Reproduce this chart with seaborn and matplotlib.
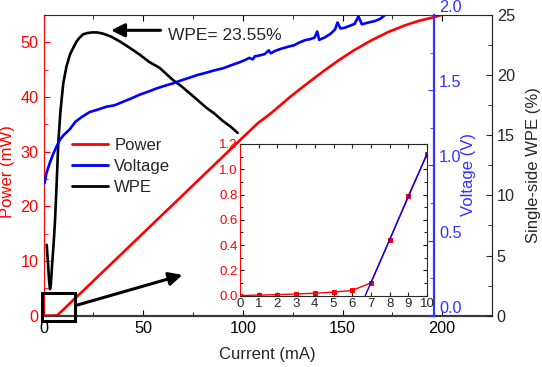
import numpy as np
import pandas as pd
import matplotlib
matplotlib.use("Agg")
import matplotlib.pyplot as plt
from matplotlib.patches import Rectangle
from matplotlib.lines import Line2D
from matplotlib.ticker import MultipleLocator, FormatStrFormatter
from matplotlib.transforms import ScaledTranslation
import seaborn as sns

# --- data ---
power_i = [0, 1, 2, 3, 4, 5, 6, 7, 8, 9, 10, 15, 20, 30, 40, 50, 60, 70, 80, 90, 98,
           107.5, 114.7, 123, 131.3, 140, 148, 156, 164.7, 173, 181.3, 188, 194.7, 199.7]
power_mw = [0, 0.003, 0.007, 0.012, 0.018, 0.027, 0.04, 0.1, 0.44, 0.79, 1.12, 2.9, 4.6,
            8.1, 11.6, 15.1, 18.6, 22.1, 25.6, 29.1, 31.9, 35.2, 37.2, 39.8, 42.2, 44.6,
            46.7, 48.6, 50.4, 51.9, 53.1, 53.9, 54.5, 55.0]

volt_i = [0.5, 1.5, 3.25, 5, 6.6, 8.25, 10, 13.2, 16, 19, 23.25, 27, 31.6, 35.8, 39.9,
          44, 48.25, 52.5, 56.6, 60.5, 64.9, 69, 73.25, 77, 81.6, 85.8, 89.9, 94, 98.25,
          101, 103.25, 105, 106, 108, 111, 113, 114, 116, 119, 123, 126, 128, 131.3, 134,
          136, 137.3, 138.3, 141, 144, 146.3, 147.5, 149, 151.3, 154, 156, 158, 159.7,
          163, 166.3, 169, 171.3, 175, 180]
volt_v = [0.88, 0.95, 1.02, 1.08, 1.127, 1.17, 1.2, 1.24, 1.29, 1.32, 1.355, 1.37, 1.39,
          1.40, 1.423, 1.445, 1.47, 1.49, 1.511, 1.528, 1.545, 1.565, 1.583, 1.60, 1.616,
          1.632, 1.645, 1.665, 1.685, 1.70, 1.715, 1.705, 1.725, 1.73, 1.74, 1.765, 1.745,
          1.76, 1.775, 1.79, 1.80, 1.815, 1.833, 1.84, 1.85, 1.89, 1.835, 1.85, 1.875,
          1.905, 1.95, 1.91, 1.916, 1.93, 1.94, 1.99, 1.938, 1.95, 1.96, 1.975, 2.0, 2.03,
          2.06]

wpe_i = [1.6, 2.2, 2.8, 3.25, 3.7, 4.3, 5, 5.75, 6.6, 7.4, 8.5, 9.9, 11.5, 13.25, 15,
         16.6, 18, 19.9, 22, 24.1, 27, 29.9, 34, 38.3, 43, 48.3, 53, 58.3, 64.9, 69, 73.3,
         77.5, 81.6, 85.8, 89.9, 94, 97.4]
wpe_pct = [5.9, 4.5, 2.9, 2.2, 2.6, 4.2, 5.8, 7.8, 11.0, 14.3, 17.0, 19.3, 20.7, 21.7,
           22.3, 22.8, 23.1, 23.4, 23.5, 23.55, 23.55, 23.45, 23.2, 22.8, 22.3, 21.7, 21.1,
           20.6, 19.6, 19.1, 18.5, 17.9, 17.3, 16.8, 16.2, 15.7, 15.2]

inset_i = [0, 1, 2, 3, 4, 5, 6, 7, 8, 9, 10]
inset_p = [0, 0.003, 0.007, 0.012, 0.018, 0.027, 0.04, 0.1, 0.44, 0.79, 1.12]
fit_i = [6.7, 10]
fit_p = [0, 1.12]

RED = "#ff0000"
BLUE = "#0000ff"
VBLUE = "#3333ff"

sns.set_style("ticks")
plt.rcParams["font.family"] = ["Liberation Sans", "DejaVu Sans"]
plt.rcParams["xtick.direction"] = "in"
plt.rcParams["ytick.direction"] = "in"

fig = plt.figure(figsize=(5.42, 3.67), dpi=100)
ax = fig.add_axes([43.5 / 542, 51.3 / 367, 448.5 / 542, 300.7 / 367])
ax_w = ax.twinx()
ax_v = ax.twinx()

# curves
sns.lineplot(x=power_i, y=power_mw, ax=ax, color=RED, lw=1.9, sort=False)
sns.lineplot(x=wpe_i, y=wpe_pct, ax=ax_w, color="black", lw=1.9, sort=False)
sns.lineplot(x=volt_i, y=volt_v, ax=ax_v, color=BLUE, lw=1.9, sort=False)

# main axis (power)
ax.set_xlim(0, 225)
ax.set_ylim(0, 55)
ax.xaxis.set_major_locator(MultipleLocator(50))
ax.xaxis.set_minor_locator(MultipleLocator(25))
ax.yaxis.set_major_locator(MultipleLocator(10))
ax.yaxis.set_minor_locator(MultipleLocator(5))
ax.tick_params(axis="x", which="both", top=True, labelsize=11.7, colors="black")
ax.tick_params(axis="x", which="major", length=4)
ax.tick_params(axis="x", which="minor", length=3)
ax.tick_params(axis="y", which="both", colors=RED, labelsize=11.7)
ax.tick_params(axis="y", which="major", length=4)
ax.tick_params(axis="y", which="minor", length=3)
ax.spines["left"].set_color(RED)
ax.spines["bottom"].set_color("#3a3a3a")
ax.spines["bottom"].set_linewidth(1.6)
ax.set_xlabel("Current (mA)", fontsize=12)
ax.xaxis.set_label_coords(0.5, -0.105)
ax.set_ylabel("Power (mW)", fontsize=12, color=RED)
ax.yaxis.set_label_coords(-0.0635, 0.48)

# WPE axis
ax_w.set_ylim(0, 25)
ax_w.yaxis.set_major_locator(MultipleLocator(5))
ax_w.yaxis.set_minor_locator(MultipleLocator(2.5))
ax_w.tick_params(axis="y", which="both", labelsize=11.7)
ax_w.tick_params(axis="y", which="major", length=4)
ax_w.tick_params(axis="y", which="minor", length=3)
ax_w.set_ylabel("Single-side WPE (%)", fontsize=12)
ax_w.yaxis.set_label_coords(1.0755, 0.5)
for s in ["left", "top", "bottom"]:
    ax_w.spines[s].set_visible(False)

# voltage axis
ax_v.set_ylim(0, 2.0)
ax_v.spines["right"].set_position(("axes", 0.871))
ax_v.spines["right"].set_color(VBLUE)
ax_v.spines["right"].set_linewidth(1.6)
for s in ["left", "top", "bottom"]:
    ax_v.spines[s].set_visible(False)
ax_v.yaxis.set_major_locator(MultipleLocator(0.5))
ax_v.yaxis.set_minor_locator(MultipleLocator(0.25))
ax_v.tick_params(axis="y", which="both", colors=VBLUE, labelsize=11.7)
ax_v.tick_params(axis="y", which="major", length=4)
ax_v.tick_params(axis="y", which="minor", length=3)
ax_v.yaxis.set_major_formatter(FormatStrFormatter("%.1f"))
ax_v.set_ylabel("Voltage (V)", fontsize=12, color=VBLUE)
ax_v.yaxis.set_label_coords(0.931, 0.47)
# voltage tick labels sit a little above their ticks in the original
lift = ScaledTranslation(0, 9 / 100, fig.dpi_scale_trans)
for t in ax_v.yaxis.get_major_ticks():
    t.label2.set_transform(t.label2.get_transform() + lift)

# annotations on the main axes, drawn through ax_v so they sit on top
ax_v.annotate("", xy=(32.5, 52.2 / 55 * 2), xytext=(60.1, 52.2 / 55 * 2),
              arrowprops=dict(arrowstyle="-|>", lw=2.2, color="black", mutation_scale=20))
ax_v.text(62.5, 51.3 / 55 * 2, "WPE= 23.55%", fontsize=12.5, va="center", ha="left")
ax_v.annotate("", xy=(71, 7.6 / 55 * 2), xytext=(15.8, 1.83 / 55 * 2),
              arrowprops=dict(arrowstyle="-|>", lw=2.2, color="black", mutation_scale=20))
ax_v.add_patch(Rectangle((-0.9, -0.9 / 55 * 2), 16.7, 5.1 / 55 * 2, fill=False,
                         lw=2.2, edgecolor="black", clip_on=False, zorder=5))

# legend
handles = [Line2D([], [], color=RED, lw=2),
           Line2D([], [], color=BLUE, lw=2),
           Line2D([], [], color="black", lw=2)]
fig.legend(handles, ["Power", "Voltage", "WPE"], loc="upper left",
           bbox_to_anchor=(71.7 / 542, 1 - 138 / 367), frameon=False, fontsize=12,
           borderpad=0, borderaxespad=0, handlelength=2.2, handletextpad=0.35,
           labelspacing=0.36)

# inset
axi = fig.add_axes([240 / 542, (367 - 295.5) / 367, 187 / 542, 151.5 / 367])
axi.set_zorder(10)
sns.lineplot(x=inset_i, y=inset_p, ax=axi, color=RED, lw=1, marker="s", markersize=3,
             markeredgecolor=RED)
sns.lineplot(x=fit_i, y=fit_p, ax=axi, color=BLUE, lw=1)
axi.set_xlim(0, 10)
axi.set_ylim(0, 1.2)
axi.xaxis.set_major_locator(MultipleLocator(1))
axi.yaxis.set_major_locator(MultipleLocator(0.2))
axi.yaxis.set_minor_locator(MultipleLocator(0.1))
axi.yaxis.set_major_formatter(FormatStrFormatter("%.1f"))
axi.tick_params(axis="x", which="both", top=True, labelsize=9.5, length=3, pad=1.5)
axi.tick_params(axis="y", which="both", right=True, labelsize=9.5, length=3, pad=1.5)
axi.tick_params(axis="y", which="minor", length=2)
axi.tick_params(axis="y", which="both", labelcolor=RED, color="black")
axi.spines["left"].set_color(RED)

fig.savefig("out.png", dpi=100)
